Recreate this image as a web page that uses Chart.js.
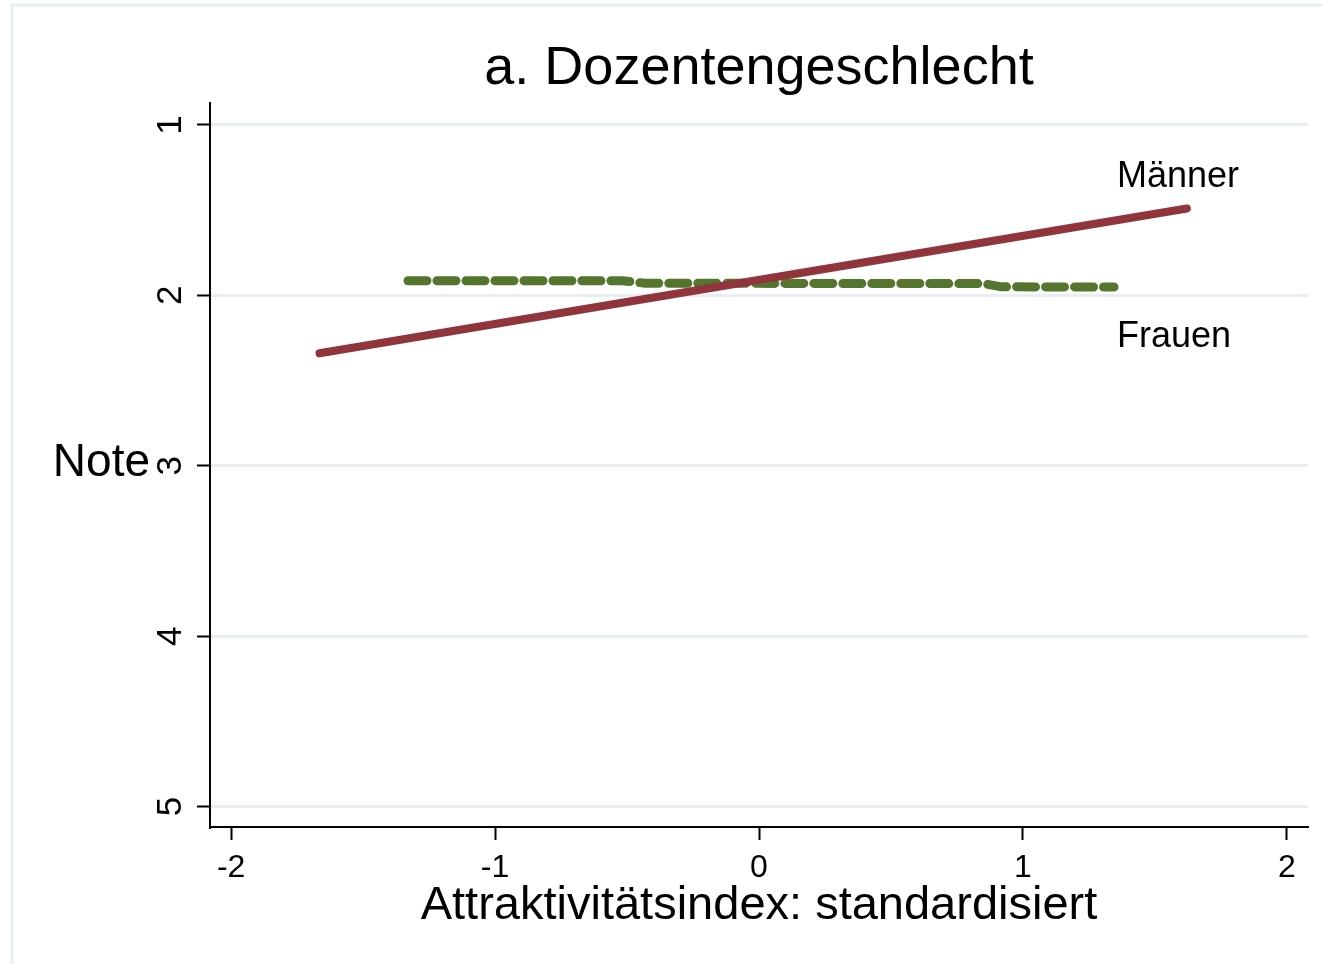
<!DOCTYPE html>
<html>
<head>
<meta charset="utf-8">
<script src="https://cdn.jsdelivr.net/npm/chart.js@4.4.0/dist/chart.umd.min.js"></script>
<style>
body { margin: 0; background: #ffffff; }
</style>
</head>
<body>
<canvas id="noteChart" width="1322" height="964"></canvas>
<script>
// values
const maennerX = [-1.665, 1.621];
const maennerY = [2.34, 1.49];
const frauenX = [-1.33, -0.52, -0.43, 0.85, 0.92, 1.345];
const frauenY = [1.914, 1.914, 1.929, 1.931, 1.950, 1.951];
const xTicks = [-2, -1, 0, 1, 2];
const yTicks = [1, 2, 3, 4, 5];
const seriesNames = ['Männer', 'Frauen'];
const nameAnchors = [[1.356, 1.306], [1.356, 2.247]];

const fontFamily = '"Liberation Sans", Arial, Helvetica, sans-serif';
const chartCanvas = document.getElementById('noteChart');

function toPoints(xs, ys)
{
    return xs.map((x, i) => ({ x: x, y: ys[i] }));
}

// frame, horizontal "Note" title and the line names
const extrasPlugin = {
    id: 'extras',
    beforeDraw(chart) {
        const ctx = chart.ctx;
        ctx.save();
        ctx.strokeStyle = '#e8eff1';
        ctx.lineWidth = 3;
        ctx.beginPath();
        ctx.moveTo(12, 1400);
        ctx.lineTo(12, 5);
        ctx.lineTo(1400, 5);
        ctx.stroke();
        ctx.restore();
    },
    afterDraw(chart) {
        const ctx = chart.ctx;
        const xs = chart.scales.x;
        const ys = chart.scales.y;
        ctx.save();
        ctx.fillStyle = '#000';
        ctx.textBaseline = 'middle';
        ctx.font = '46px ' + fontFamily;
        ctx.textAlign = 'right';
        ctx.fillText('Note', 150, ys.getPixelForValue(3) - 2);
        ctx.font = '36px ' + fontFamily;
        ctx.textAlign = 'left';
        for (let i = 0; i < seriesNames.length; i++)
        {
            ctx.fillText(seriesNames[i], xs.getPixelForValue(nameAnchors[i][0]), ys.getPixelForValue(nameAnchors[i][1]));
        }
        ctx.restore();
    }
};

const noteChart = new Chart(chartCanvas, {
    type: 'line',
    data: {
        datasets: [{
            label: seriesNames[0],
            data: toPoints(maennerX, maennerY),
            borderColor: '#90353b',
            borderWidth: 8,
            borderCapStyle: 'round',
            pointRadius: 0,
            tension: 0,
        }, {
            label: seriesNames[1],
            data: toPoints(frauenX, frauenY),
            borderColor: '#55752f',
            borderWidth: 9,
            borderCapStyle: 'round',
            borderJoinStyle: 'round',
            borderDash: [19, 10],
            pointRadius: 0,
            tension: 0,
        }]
    },
    options: {
        responsive: false,
        animation: false,
        devicePixelRatio: 1,
        layout: { padding: { left: 0, right: 14, top: 0, bottom: 0 } },
        plugins: {
            legend: { display: false },
            tooltip: { enabled: false },
            title: {
                display: true,
                fullSize: false,
                text: 'a. Dozentengeschlecht',
                color: '#000',
                font: { family: fontFamily, size: 54, weight: 'normal' },
                padding: { top: 37, bottom: 1 },
            },
        },
        scales: {
            x: {
                type: 'linear',
                min: -2.08,
                max: 2.08,
                afterBuildTicks: scale => { scale.ticks = xTicks.map(v => ({ value: v })); },
                afterFit: scale => { scale.height = 137; },
                border: { color: '#000', width: 2 },
                grid: {
                    drawOnChartArea: false,
                    tickColor: '#000',
                    tickWidth: 2,
                    tickLength: 13,
                },
                ticks: {
                    color: '#000',
                    padding: 9,
                    font: { family: fontFamily, size: 32 },
                },
                title: {
                    display: true,
                    text: 'Attraktivitätsindex: standardisiert',
                    color: '#000',
                    font: { family: fontFamily, size: 47 },
                    padding: { top: 0, bottom: 30 },
                },
            },
            y: {
                type: 'linear',
                reverse: true,
                min: 0.87,
                max: 5.12,
                afterBuildTicks: scale => { scale.ticks = yTicks.map(v => ({ value: v })); },
                afterFit: scale => { scale.width = 210; },
                border: { color: '#000', width: 2 },
                grid: {
                    color: '#e9eff1',
                    lineWidth: 3,
                    tickColor: '#000',
                    tickWidth: 2,
                    tickLength: 13,
                },
                ticks: {
                    color: '#000',
                    padding: 16,
                    minRotation: 90,
                    maxRotation: 90,
                    crossAlign: 'center',
                    font: { family: fontFamily, size: 35 },
                },
            },
        },
    },
    plugins: [extrasPlugin],
});
</script>
</body>
</html>
